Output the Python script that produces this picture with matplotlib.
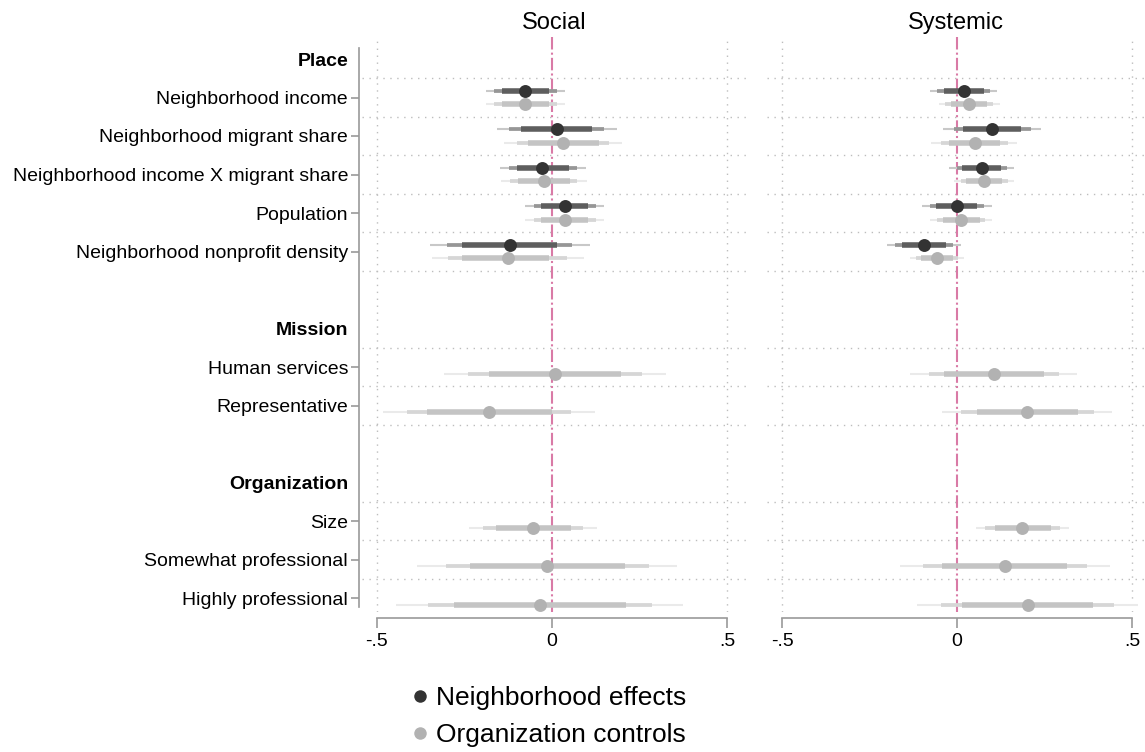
import matplotlib
matplotlib.use("Agg")
import matplotlib.pyplot as plt
from matplotlib.lines import Line2D

plt.rcParams['font.family'] = ['Liberation Sans', 'DejaVu Sans']

# ---------------- data ----------------
row_labels = ["Place", "Neighborhood income", "Neighborhood migrant share",
              "Neighborhood income X migrant share", "Population",
              "Neighborhood nonprofit density", "", "Mission", "Human services",
              "Representative", "", "Organization", "Size",
              "Somewhat professional", "Highly professional"]
header_labels = ["Place", "Mission", "Organization"]
panel_titles = ["Social", "Systemic"]
series_names = ["Neighborhood effects", "Organization controls"]

neigh_rows = [1, 2, 3, 4, 5]
ctrl_rows = [1, 2, 3, 4, 5, 8, 9, 12, 13, 14]

# Social: neighborhood effects
soc_ne_b   = [-0.076, 0.013, -0.028, 0.036, -0.121]
soc_ne_lo1 = [-0.144, -0.089, -0.101, -0.031, -0.256]
soc_ne_hi1 = [-0.009, 0.115, 0.048, 0.104, 0.015]
soc_ne_lo2 = [-0.165, -0.122, -0.124, -0.052, -0.299]
soc_ne_hi2 = [0.013, 0.148, 0.070, 0.126, 0.058]
soc_ne_lo3 = [-0.190, -0.158, -0.150, -0.077, -0.349]
soc_ne_hi3 = [0.037, 0.185, 0.097, 0.149, 0.109]

# Social: organization controls
soc_oc_b   = [-0.076, 0.031, -0.024, 0.036, -0.126, 0.009, -0.180, -0.055, -0.013, -0.034]
soc_oc_lo1 = [-0.144, -0.069, -0.097, -0.031, -0.256, -0.180, -0.358, -0.161, -0.234, -0.279]
soc_oc_hi1 = [-0.009, 0.133, 0.050, 0.104, -0.010, 0.197, 0.001, 0.053, 0.208, 0.210]
soc_oc_lo2 = [-0.165, -0.101, -0.120, -0.052, -0.296, -0.239, -0.415, -0.196, -0.304, -0.355]
soc_oc_hi2 = [0.014, 0.164, 0.072, 0.126, 0.044, 0.256, 0.055, 0.088, 0.276, 0.286]
soc_oc_lo3 = [-0.190, -0.137, -0.146, -0.077, -0.344, -0.309, -0.482, -0.236, -0.385, -0.446]
soc_oc_hi3 = [0.038, 0.201, 0.099, 0.149, 0.091, 0.326, 0.122, 0.128, 0.357, 0.375]

# Systemic: neighborhood effects
sys_ne_b   = [0.019, 0.101, 0.070, -0.001, -0.094]
sys_ne_lo1 = [-0.037, 0.018, 0.015, -0.060, -0.157]
sys_ne_hi1 = [0.077, 0.184, 0.126, 0.058, -0.031]
sys_ne_lo2 = [-0.056, -0.009, -0.001, -0.078, -0.177]
sys_ne_hi2 = [0.095, 0.210, 0.143, 0.077, -0.011]
sys_ne_lo3 = [-0.077, -0.039, -0.022, -0.100, -0.200]
sys_ne_hi3 = [0.115, 0.241, 0.162, 0.099, 0.011]

# Systemic: organization controls
sys_oc_b   = [0.034, 0.050, 0.076, 0.011, -0.058, 0.105, 0.201, 0.187, 0.136, 0.202]
sys_oc_lo1 = [-0.017, -0.024, 0.026, -0.041, -0.104, -0.036, 0.056, 0.108, -0.042, 0.013]
sys_oc_hi1 = [0.087, 0.123, 0.129, 0.065, -0.012, 0.248, 0.345, 0.268, 0.315, 0.388]
sys_oc_lo2 = [-0.033, -0.047, 0.010, -0.057, -0.118, -0.081, 0.011, 0.081, -0.098, -0.046]
sys_oc_hi2 = [0.103, 0.147, 0.145, 0.080, 0.002, 0.292, 0.391, 0.293, 0.372, 0.448]
sys_oc_lo3 = [-0.052, -0.073, -0.009, -0.076, -0.135, -0.133, -0.043, 0.053, -0.163, -0.113]
sys_oc_hi3 = [0.123, 0.172, 0.164, 0.099, 0.019, 0.343, 0.443, 0.321, 0.436, 0.516]

x_ticks = [-0.5, 0, 0.5]
x_ticklabels = ["-.5", "0", ".5"]
grid_rows = [0.5, 1.5, 2.5, 3.5, 4.5, 5.5, 7.5, 8.5, 9.5, 11.5, 12.5, 13.5]

# ---------------- styling ----------------
dark_cols = ["#333333", "#5e5e5e", "#969696", "#c8c8c8"]   # point, inner, middle, outer
light_cols = ["#b2b2b2", "#c4c4c4", "#d6d6d6", "#eaeaea"]
pink = "#d97aa6"
axis_gray = "#999999"
grid_gray = "#bdbdbd"

W, H = 1145, 752
fig = plt.figure(figsize=(W / 100, H / 100), dpi=100)

def px_axes(x0, x1, y0, y1):
    return fig.add_axes([x0 / W, 1 - y1 / H, (x1 - x0) / W, (y1 - y0) / H])

# data scale: 350 px per unit; -0.5 at x=377 (left) and 782 (right)
axL = px_axes(362, 747, 37, 612)
axR = px_axes(767, 1145, 37, 612)
axL.set_xlim(-0.5 - 15 / 350, -0.5 - 15 / 350 + 385 / 350)
axR.set_xlim(-0.5 - 15 / 350, -0.5 - 15 / 350 + 378 / 350)

row_px = 38.5
ylim_top = (37 - 59) / row_px
ylim_bot = (612 - 59) / row_px

off = 0.18

def draw_series(ax, rows, b, lo1, hi1, lo2, hi2, lo3, hi3, cols, dy):
    ys = [r + dy for r in rows]
    ax.hlines(ys, lo3, hi3, colors=cols[3], linewidth=1.5, zorder=3)
    ax.hlines(ys, lo2, hi2, colors=cols[2], linewidth=2.7, zorder=4)
    ax.hlines(ys, lo1, hi1, colors=cols[1], linewidth=4.0, zorder=5)
    ax.plot(b, ys, 'o', color=cols[0], markersize=9.3, markeredgewidth=0, zorder=6)

panels = [
    (axL, (soc_ne_b, soc_ne_lo1, soc_ne_hi1, soc_ne_lo2, soc_ne_hi2, soc_ne_lo3, soc_ne_hi3),
          (soc_oc_b, soc_oc_lo1, soc_oc_hi1, soc_oc_lo2, soc_oc_hi2, soc_oc_lo3, soc_oc_hi3)),
    (axR, (sys_ne_b, sys_ne_lo1, sys_ne_hi1, sys_ne_lo2, sys_ne_hi2, sys_ne_lo3, sys_ne_hi3),
          (sys_oc_b, sys_oc_lo1, sys_oc_hi1, sys_oc_lo2, sys_oc_hi2, sys_oc_lo3, sys_oc_hi3)),
]

for i, (ax, ne, oc) in enumerate(panels):
    ax.set_ylim(ylim_bot, ylim_top)
    for s in ["top", "right"]:
        ax.spines[s].set_visible(False)
    # gridlines
    for g in grid_rows:
        ax.axhline(g, color=grid_gray, linestyle=(0, (1, 4)), linewidth=1.0, zorder=1)
    for gx in [-0.5, 0.5]:
        ax.axvline(gx, color=grid_gray, linestyle=(0, (1, 4)), linewidth=1.0, zorder=1)
    ax.axvline(0, color=pink, linestyle=(0, (6, 1.5, 1, 1.5)), linewidth=1.5, zorder=2)

    draw_series(ax, neigh_rows, *ne, dark_cols, -off)
    draw_series(ax, ctrl_rows, *oc, light_cols, off)

    # x axis
    ax.spines["bottom"].set_position(("outward", 4))
    ax.spines["bottom"].set_bounds(-0.5, 0.5)
    ax.spines["bottom"].set_color(axis_gray)
    ax.spines["bottom"].set_linewidth(1.2)
    ax.set_xticks(x_ticks)
    ax.set_xticklabels(x_ticklabels)
    ax.tick_params(axis="x", length=7, width=1.2, color=axis_gray, labelsize=14, pad=4)

    ax.set_title(panel_titles[i], fontsize=17, pad=6)

    if i == 0:
        ax.spines["left"].set_position(("outward", 2))
        ax.spines["left"].set_bounds(-0.29, 14.24)
        ax.spines["left"].set_color(axis_gray)
        ax.spines["left"].set_linewidth(1.2)
        ax.set_yticks(range(len(row_labels)))
        ax.set_yticklabels(row_labels)
        ax.tick_params(axis="y", length=6, width=1.2, color=axis_gray, labelsize=14, pad=2)
        for t, lab in zip(ax.yaxis.get_major_ticks(), row_labels):
            if lab in header_labels or lab == "":
                t.tick1line.set_visible(False)
            if lab in header_labels:
                t.label1.set_fontweight("bold")
    else:
        ax.spines["left"].set_visible(False)
        ax.set_yticks([])

handles = [Line2D([], [], linestyle="none", marker="o", markersize=9,
                  markeredgewidth=0, color=dark_cols[0]),
           Line2D([], [], linestyle="none", marker="o", markersize=9,
                  markeredgewidth=0, color=light_cols[0])]
fig.legend(handles, series_names, loc="upper left",
           bbox_to_anchor=(410 / W, 1 - 686 / H), frameon=False, fontsize=19,
           handlelength=0.75, handletextpad=0.25, labelspacing=0.49,
           borderpad=0, borderaxespad=0)

fig.savefig("out.png", dpi=100)
